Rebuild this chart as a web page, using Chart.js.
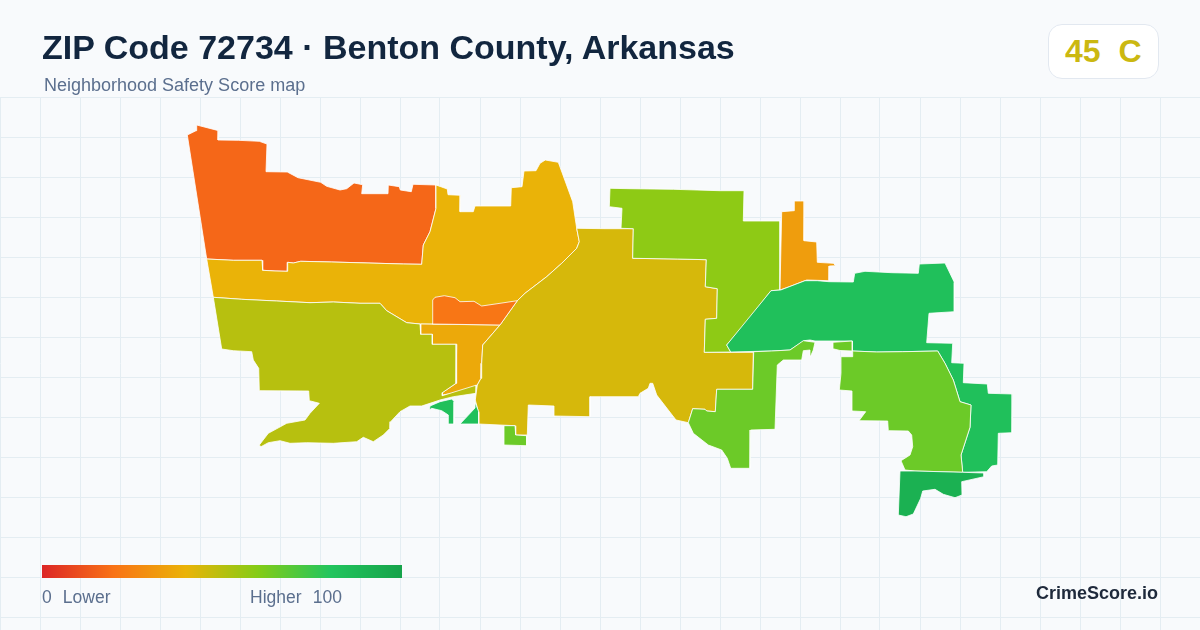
<!DOCTYPE html>
<html>
<head>
<meta charset="utf-8">
<title>ZIP Code 72734</title>
<script src="https://cdn.jsdelivr.net/npm/chart.js@4"></script>
<style>
  html, body { margin: 0; padding: 0; background: #f8fafc; }
  #page { position: relative; width: 1200px; height: 630px; overflow: hidden; font-family: 'Liberation Sans', Arial, sans-serif; }
  canvas { position: absolute; left: 0; top: 0; }
  #page div { position: absolute; white-space: pre; }
  #title { left: 42px; top: 27px; font-size: 34px; line-height: 41px; font-weight: 700; color: #12263f; }
  #subtitle { left: 44px; top: 75px; font-size: 18px; line-height: 20px; color: #5b6f8e; }
  #badge { left: 1048px; top: 24px; width: 109px; height: 53px; background: #fff; border: 1px solid #e2e8f0; border-radius: 14px; }
  #grade { left: 1065px; top: 33px; font-size: 32px; line-height: 36px; font-weight: 700; color: #cbb811; }
  #scale { left: 42px; top: 565px; width: 360px; height: 13px; background: linear-gradient(90deg, #dc2626 0%, #f97316 20%, #eab308 40%, #84cc16 60%, #22c55e 80%, #16a34a 100%); }
  .scale-label { top: 587px; font-size: 17.5px; line-height: 20px; word-spacing: 0.7px; color: #5b6f8e; }
  #brand { right: 42px; top: 583px; font-size: 18px; line-height: 20px; font-weight: 700; color: #1e293b; }
</style>
</head>
<body>
<div id="page">
  <canvas id="map" width="1200" height="630"></canvas>
  <div id="title">ZIP Code 72734 · Benton County, Arkansas</div>
  <div id="subtitle">Neighborhood Safety Score map</div>
  <div id="badge"></div>
  <div id="grade">45  C</div>
  <div id="scale"></div>
  <div class="scale-label" style="left:42px">0  Lower</div>
  <div class="scale-label" style="left:250px">Higher  100</div>
  <div id="brand">CrimeScore.io</div>
</div>
<script>
const northWest = [[187.3,135],[196,130.7],[196.7,125],[218.7,130.7],[218,140],[238.3,140.3],[259.3,141.3],[267,144],[266,171.7],[287.3,172],[298,177.7],[320.7,182.3],[326.7,186.3],[340,190],[346.7,188.7],[354,183],[362.7,184.7],[361.7,193.7],[388,193.7],[388.3,185],[399.3,186.7],[400.3,190],[411.3,191.7],[413,184.3],[436,185],[436,208.3],[430,231.7],[423.3,245],[421.7,264.3],[403.3,264],[368,263],[331.7,262],[300.7,261.3],[293.3,263],[287.7,262.3],[287.3,271.3],[275,271],[262.7,270.3],[262,260.3],[233.3,260.3],[206.7,259]]
const northBand = [[206.7,259],[233.3,260.3],[262,260.3],[262.7,270.3],[275,271],[287.3,271.3],[287.7,262.3],[293.3,263],[300.7,261.3],[331.7,262],[368,263],[403.3,264],[421.7,264.3],[423.3,245],[430,231.7],[436,208.3],[436,185],[447.3,189],[448,194.7],[460.7,195.3],[460,211.7],[473.3,211.7],[475,206],[510.7,206],[511.3,187.7],[522,186.7],[524,171],[536,170.7],[540,163.3],[545.3,160],[558.3,162.3],[572.7,201.7],[576.7,228.3],[579.3,241.7],[576.7,248.3],[561.7,263.3],[546.7,276.7],[525,293.3],[517.3,300.7],[500,325],[420,324],[406.7,322.7],[386.7,310.7],[380,303.3],[360,303.3],[333.3,302],[310,302.7],[276.7,301],[241.7,299.3],[213.3,297.3]]
const southStrip = [[420.7,324],[500,325],[482.7,345],[481.7,363.3],[481,378.3],[477.3,385],[469.3,390.7],[442.3,395],[442.3,392.7],[456,383.3],[456.7,344.3],[432.3,344.3],[432.3,334.3],[420.7,334.3]]
const centerTract = [[432.3,324],[432.7,300],[435,297.3],[444.3,295.7],[455,297.7],[460,301.7],[474,301.3],[481.7,306],[500,303.3],[517.3,300.7],[500,325]]
const southWest = [[213.3,297.3],[241.7,299.3],[276.7,301],[310,302.7],[333.3,302],[360,303.3],[380,303.3],[386.7,310.7],[406.7,322.7],[420,324],[420.7,334.3],[432.3,334.3],[432.3,344.3],[456.7,344.3],[456,383.3],[442.3,392.7],[442.3,395.7],[476.7,385],[476,393.3],[453.3,396.7],[440,400],[430,403.3],[421.7,406],[410,406],[400,411.7],[390.7,421.7],[390,428.3],[383.3,435],[373.3,441.7],[363.3,437.3],[356.7,441.7],[333.3,443.3],[306.7,442.7],[290,443.3],[280,440.7],[268.3,442.7],[261,446.7],[259.3,445],[268.3,433.3],[286.7,423.3],[305,420],[310,413.3],[319.3,403.3],[309.3,400.7],[308.7,391],[259.3,390.7],[258.7,368.3],[253.3,360],[251.7,351.7],[233.3,350.7],[221.7,349]]
const islandWest = [[430,406],[440,401.7],[451.7,399],[454.3,401.7],[454,424],[448.3,424],[448.3,415],[441.7,410.7],[431.7,408.3],[429.3,410]]
const islandEast = [[475,402.3],[478.7,411.7],[478.7,424],[460,424],[475,408]]
const central = [[576.7,228.3],[605,228.7],[633.3,228.7],[632.7,258.3],[677.3,259],[706.3,259.7],[705.3,286.7],[717.3,288.7],[716.7,318.3],[705.3,319.3],[704.3,352.3],[753.3,352.3],[752.7,389.3],[716.7,389.3],[715.3,411.7],[706.7,411],[705,409.3],[692.7,408.7],[688.3,422.7],[676,420],[656.7,395],[652.7,383.3],[650,383.3],[648.3,388.3],[640,393.3],[638.3,396.7],[590,396.7],[590,416.7],[554,416],[554,406],[528.3,405],[527.3,435],[515.7,435],[515,425.7],[478.7,424],[478.7,413],[475.3,400],[477.3,385],[481,378.3],[481.7,363.3],[482.7,345],[500,325],[517.3,300.7],[525,293.3],[546.7,276.7],[561.7,263.3],[576.7,248.3],[579.3,241.7]]
const centralNotch = [[504,425.7],[515,425.7],[515.7,435],[526.7,435.7],[526.7,445.7],[504,445]]
const northCentral = [[610,188.3],[630,188.7],[673.3,189.3],[720,190.7],[744,190.7],[743.3,221],[780,221],[780,290],[771,290.7],[746.7,321.7],[736.7,333.3],[726.7,345],[730.7,352],[704.3,352.3],[705.3,319.3],[716.7,318.3],[717.3,288.7],[705.3,286.7],[706.3,259.7],[677.3,259],[632.7,258.3],[633.3,228.7],[621,228.3],[622,208.3],[609.3,206.7]]
const northEastTip = [[781.7,211.7],[794,210.7],[794.3,201],[804.7,201],[804,240.7],[816.7,242],[817.3,262.3],[833.3,263.3],[835.7,265.7],[829.3,266],[829,280.7],[806.7,280],[789.3,286.7],[780,290]]
const eastBelt = [[771,290.7],[780.7,290],[805,280.7],[817.3,280.7],[829,281.7],[853.3,282],[854.7,273.3],[865,271.3],[891.7,272.7],[918.3,273.3],[919.3,264],[945,263],[954.3,282.3],[954.3,311.7],[929,313.3],[926.7,342.7],[952.7,343.3],[951.7,362.7],[964,363.3],[963.3,382.7],[987.3,384],[988.3,393.3],[1012.7,394],[1012,432.7],[998.3,433.3],[997.7,465],[991.7,466],[986.7,471.7],[962.7,472.3],[961,455],[970,427.3],[971,405],[960,401.7],[953.3,380],[945,363.3],[937.7,351],[902.7,351.7],[876.7,352],[852.3,351],[852.3,341],[815,341],[810,340],[804,340.7],[790,350],[771.7,351],[730.7,352],[726.7,345]]
const southCentral = [[753.7,351.7],[771.7,351],[790,350],[803.3,340.7],[815,342.3],[813.3,350],[810.7,356],[810,350],[803.3,350.7],[801.7,360],[783.3,360],[777.3,365],[775,429.3],[750.7,430],[750,468.3],[730.7,468.3],[727.3,458.3],[721.7,450],[708.3,445],[693.3,433.3],[688.3,422.7],[692.7,408.7],[705,409.3],[706.7,411],[715.3,411.7],[716.7,389.3],[752.7,389.3]]
const smallPatch = [[833,342.3],[852.3,341],[852.3,351],[840,350.5],[834,349]]
const southEast = [[841,356.7],[852.7,356.7],[852.7,351],[876.7,352],[902.7,351.7],[937.7,351],[945,363.3],[953.3,380],[960,401.7],[971,405],[970,427.3],[961,455],[962.7,472.3],[915,471],[905,470],[901,460.7],[910,455],[912.7,446.7],[911.7,435],[908.3,431],[888.3,430.7],[887.7,421],[859,420.7],[865.7,411.7],[852,411],[852,391],[839.3,390],[841,373.3]]
const southTip = [[900,471],[915,471],[962.7,472.3],[984,473],[984,476.7],[961.7,481.7],[962,495],[955,497.7],[943.3,494.3],[935,489.3],[922.7,491],[920.7,498.3],[913.3,514],[906,516.7],[898.3,515]]

const tracts = [northWest, northBand, southStrip, southWest, central, northCentral, northEastTip, eastBelt, southCentral, smallPatch, southEast, southTip, islandWest, islandEast, centralNotch, centerTract]
const tractScores = [17, 40, 37, 50, 44, 58, 33, 83, 65, 65, 65, 92, 83, 83, 65, 21]

const scoreStops = [0, 20, 40, 60, 80, 100]
const stopColors = [[220, 38, 38], [249, 115, 22], [234, 179, 8], [132, 204, 22], [34, 197, 94], [22, 163, 74]]

const gridColumns = [0, 40, 80, 120, 160, 200, 240, 280, 320, 360, 400, 440, 480, 520, 560, 600, 640, 680, 720, 760, 800, 840, 880, 920, 960, 1000, 1040, 1080, 1120, 1160, 1200]
const gridRows = [97, 137, 177, 217, 257, 297, 337, 377, 417, 457, 497, 537, 577, 617]

function scoreColor(score) {
  let i = 0
  while (i < scoreStops.length - 2 && score > scoreStops[i + 1]) i++
  const t = (score - scoreStops[i]) / (scoreStops[i + 1] - scoreStops[i])
  const rgb = stopColors[i].map((c, k) => Math.round(c + (stopColors[i + 1][k] - c) * t))
  return `rgb(${rgb.join(',')})`
}

function tractDataset(points, index) {
  const data = points.concat([points[0]]).map(([x, y]) => ({ x, y }))
  return {
    data,
    showLine: true,
    fill: 'shape',
    backgroundColor: scoreColor(tractScores[index]),
    borderColor: '#ffffff',
    borderWidth: 0.8,
    borderJoinStyle: 'round',
    pointRadius: 0,
    tension: 0,
  }
}

function gridScale(values, extra) {
  return {
    type: 'linear',
    min: values[0],
    max: values === gridRows ? 630 : values[values.length - 1],
    afterBuildTicks: (axis) => {
      axis.ticks = values.map((value) => ({ value }))
    },
    ticks: { display: false },
    border: { display: false },
    grid: { color: '#e4edf2', lineWidth: 1, drawTicks: false },
    ...extra,
  }
}

new Chart(document.getElementById('map'), {
  type: 'scatter',
  data: { datasets: tracts.map(tractDataset).reverse() },
  options: {
    responsive: false,
    animation: false,
    layout: { padding: { top: 97 } },
    plugins: { legend: { display: false }, tooltip: { enabled: false } },
    scales: {
      x: gridScale(gridColumns),
      y: gridScale(gridRows, { reverse: true }),
    },
  },
})
</script>
</body>
</html>
